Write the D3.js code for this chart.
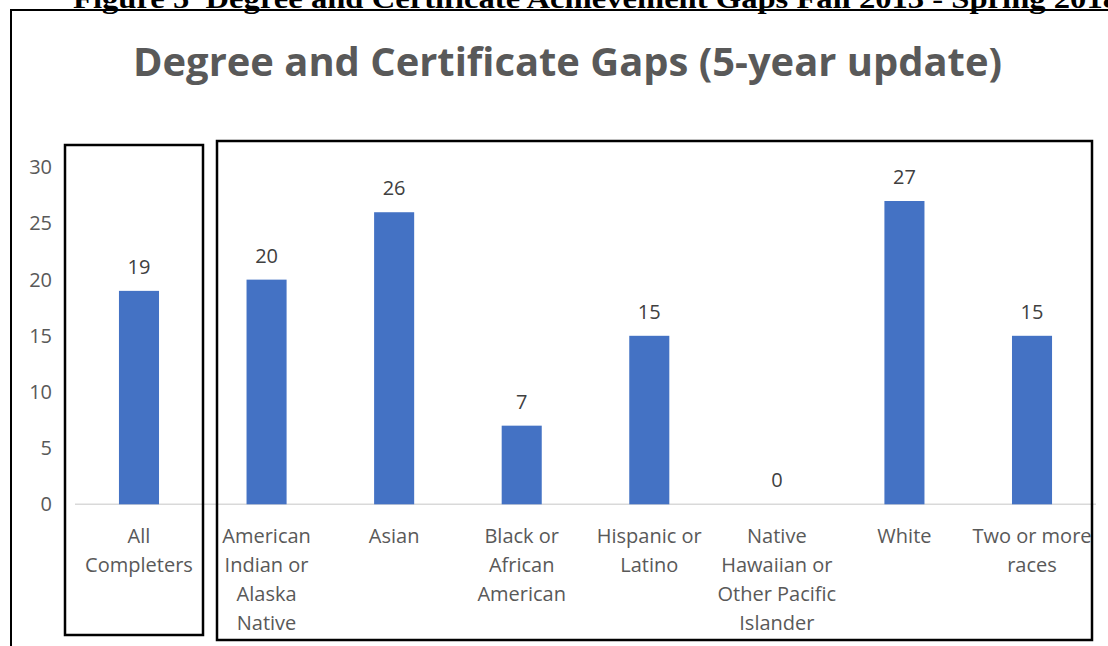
<!DOCTYPE html>
<html>
<head>
<meta charset="utf-8">
<script src="https://cdn.jsdelivr.net/npm/d3@7"></script>
<style>
  html, body { margin: 0; padding: 0; background: #fff; }
  svg { display: block; }
</style>
</head>
<body>
<svg id="chart" width="1108" height="646"></svg>
<script>
// Completion gap values by group
const categories = [
  "All Completers",
  "American Indian or Alaska Native",
  "Asian",
  "Black or African American",
  "Hispanic or Latino",
  "Native Hawaiian or Other Pacific Islander",
  "White",
  "Two or more races"
];
const values = [19, 20, 26, 7, 15, 0, 27, 15];
// Wrapped axis label lines, one list per category
const labelLines = [
  ["All", "Completers"],
  ["American", "Indian or", "Alaska", "Native"],
  ["Asian"],
  ["Black or", "African", "American"],
  ["Hispanic or", "Latino"],
  ["Native", "Hawaiian or", "Other Pacific", "Islander"],
  ["White"],
  ["Two or more", "races"]
];
const yTicks = [0, 5, 10, 15, 20, 25, 30];
const captionText = "Figure 5\u00a0\u00a0Degree and Certificate Achievement Gaps Fall 2013 - Spring 2018";
const titleText = "Degree and Certificate Gaps (5-year update)";

const svg = d3.select("#chart");
const textColor = "#595959";
const barColor = "#4472c4";
const labelFont = "'Open Sans', 'Noto Sans', sans-serif";

const x = d3.scaleBand()
  .domain(categories)
  .range([75.2, 1095.8])
  .paddingInner(0.686)
  .paddingOuter(0.343);

const y = d3.scaleLinear()
  .domain([0, 30])
  .range([504.3, 167.3]);

// Document caption above the chart frame (partly clipped by the page edge)
svg.append("text")
  .attr("x", 73)
  .attr("y", 8)
  .attr("font-family", "'Liberation Serif', 'Times New Roman', serif")
  .attr("font-weight", "bold")
  .attr("font-size", 27)
  .attr("fill", "#000")
  .attr("textLength", 1046)
  .attr("lengthAdjust", "spacingAndGlyphs")
  .text(captionText);

// Outer chart frame
svg.append("rect")
  .attr("x", 11).attr("y", 10)
  .attr("width", 1130).attr("height", 660)
  .attr("fill", "none")
  .attr("stroke", "#000")
  .attr("stroke-width", 2);

// Chart title
svg.append("text")
  .attr("x", 567.5)
  .attr("y", 76)
  .attr("text-anchor", "middle")
  .attr("font-family", labelFont)
  .attr("font-weight", "bold")
  .attr("font-size", 39)
  .attr("fill", textColor)
  .attr("textLength", 869)
  .attr("lengthAdjust", "spacingAndGlyphs")
  .text(titleText);

// Y axis: labels only, no line or tick marks
const yAxis = d3.axisLeft(y)
  .tickValues(yTicks)
  .tickSize(0)
  .tickPadding(0);
const yG = svg.append("g")
  .attr("transform", "translate(52,0)")
  .call(yAxis);
yG.select(".domain").remove();
yG.selectAll("text")
  .attr("font-family", labelFont)
  .attr("font-size", 20)
  .attr("fill", textColor);

// Baseline
svg.append("line")
  .attr("x1", 75).attr("x2", 1096)
  .attr("y1", y(0)).attr("y2", y(0))
  .attr("stroke", "#d9d9d9")
  .attr("stroke-width", 1.5);

// Bars
svg.append("g")
  .selectAll("rect")
  .data(values)
  .join("rect")
  .attr("x", (d, i) => x(categories[i]))
  .attr("width", x.bandwidth())
  .attr("y", d => y(d))
  .attr("height", d => y(0) - y(d))
  .attr("fill", barColor);

// Value labels
svg.append("g")
  .selectAll("text")
  .data(values)
  .join("text")
  .attr("x", (d, i) => x(categories[i]) + x.bandwidth() / 2)
  .attr("y", d => y(d) - 17)
  .attr("text-anchor", "middle")
  .attr("font-family", labelFont)
  .attr("font-size", 20)
  .attr("fill", "#404040")
  .text(d => d);

// Category labels, wrapped on several lines
const catG = svg.append("g");
categories.forEach((c, i) => {
  const t = catG.append("text")
    .attr("text-anchor", "middle")
    .attr("font-family", labelFont)
    .attr("font-size", 20)
    .attr("fill", textColor);
  labelLines[i].forEach((line, j) => {
    t.append("tspan")
      .attr("x", x(c) + x.bandwidth() / 2)
      .attr("y", 543 + j * 29)
      .text(line);
  });
});

// Highlight frames around the overall group and the race/ethnicity groups
svg.append("rect")
  .attr("x", 65).attr("y", 145)
  .attr("width", 138).attr("height", 490)
  .attr("fill", "none")
  .attr("stroke", "#000")
  .attr("stroke-width", 2.5);
svg.append("rect")
  .attr("x", 217).attr("y", 141)
  .attr("width", 875).attr("height", 499)
  .attr("fill", "none")
  .attr("stroke", "#000")
  .attr("stroke-width", 2.5);
</script>
</body>
</html>
